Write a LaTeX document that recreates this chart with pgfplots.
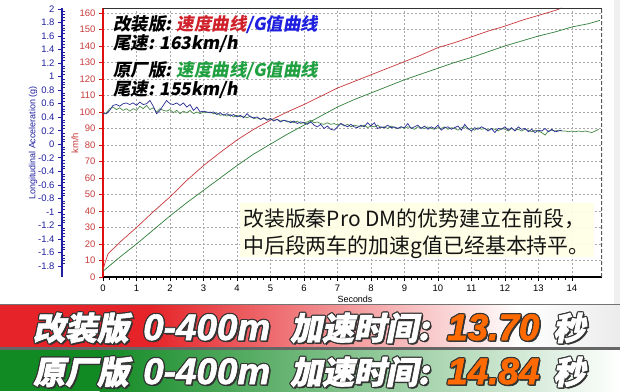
\documentclass[border=0pt]{standalone}
\usepackage{fontspec}
\usepackage{pgfplots}
\pgfplotsset{compat=1.18}
\setmainfont{Liberation Sans}
\newfontfamily\cjk{Noto Sans CJK SC}
\newfontfamily\cjkslant{Noto Sans CJK SC}[FakeSlant=0.18]
\newfontfamily\bannercjk{Noto Sans CJK SC}[FakeSlant=0.2, FakeBold=2]
\newfontfamily\bannerlat{Liberation Sans}[FakeBold=1.6]

\definecolor{spdred}{HTML}{C8383C}
\definecolor{spdgreen}{HTML}{2F7F3A}
\definecolor{gblue}{HTML}{2A2A96}
\definecolor{ggreen}{HTML}{4B8B4B}
\definecolor{axred}{HTML}{E01010}
\definecolor{lblred}{HTML}{C83C3C}
\definecolor{lblblue}{HTML}{2020A0}
\definecolor{gridgray}{HTML}{A8A8A8}
\definecolor{txtred}{HTML}{D0202A}
\definecolor{txtblue}{HTML}{1F1FE0}
\definecolor{txtgreen}{HTML}{20A040}
\definecolor{boxfill}{HTML}{FFFFE6}
\definecolor{bandred}{HTML}{E52328}
\definecolor{bandgreen}{HTML}{128A24}
\definecolor{numorange}{HTML}{FF6A00}

\newcommand{\bcjk}{\bannercjk\bfseries\fontsize{32}{34}\selectfont}
\newcommand{\blat}{\bannerlat\bfseries\itshape\fontsize{37}{38}\selectfont}
% text with a dark outline for the banners
\newcommand{\shadowtext}[5]{%
  \foreach \dx/\dy in {-1.2/0,1.2/0,0/1.2,0/-1.2,-0.85/0.85,0.85/0.85,-0.85/-0.85,0.85/-0.85,1.6/-1.6}{%
    \node[anchor=base west, inner sep=0pt, text=black!80, font=#3] at ({#1+\dx},{#2+\dy}) {#5};}%
  \node[anchor=base west, inner sep=0pt, text=#4, font=#3] at (#1,#2) {#5};}

\begin{document}
\begin{tikzpicture}[x=1bp,y=1bp]
\useasboundingbox (0,0) rectangle (620,391);
\fill[white] (0,0) rectangle (620,391);
\fill[gray!12] (614,86) rectangle (620,391);

% speed axis (km/h)
\begin{axis}[
  at={(103bp,114bp)}, anchor=south west, scale only axis,
  width=499bp, height=269bp,
  xmin=0, xmax=14.9, ymin=0, ymax=163,
  axis x line*=bottom, axis y line*=left,
  x axis line style={black, line width=2bp, -},
  y axis line style={axred, line width=2bp, -},
  xtick={0,1,...,14}, ytick={0,10,...,160},
  minor x tick num=4,
  tick align=outside,
  major tick length=4bp, minor tick length=2.5bp,
  xtick style={black, line width=0.7bp},
  ytick style={axred, line width=0.7bp},
  grid=major,
  major grid style={gridgray, line width=0.6bp, dash pattern=on 2bp off 2bp},
  tick label style={font=\fontsize{9.5}{10}\selectfont},
  /pgf/number format/assume math mode=true,
  yticklabel style={text=lblred},
  xticklabel style={text=black},
]
\addplot[spdgreen, line width=0.7bp] coordinates {
(0,3.5)(0.5,12)(1,20)(1.5,28.5)(2,37)(2.5,45)(3,52.5)(3.5,60)(4,67.5)(4.5,74.5)
(5,80.5)(5.5,86.5)(6,92)(6.5,97.5)(7,103)(7.5,107.5)(8,111.5)(8.5,115.5)(9,119.5)(9.5,123)
(10,126.5)(10.5,130)(11,133)(11.5,136.5)(12,140)(12.5,143)(13,146)(13.5,148.5)(14,151.5)(14.5,153.5)(14.84,155.5)};
\addplot[spdred, line width=0.7bp] coordinates {
(0,4)(0.05,8)(0.15,14)(0.3,17)(0.5,21)(0.75,25.5)(1,30)(1.5,39.5)(2,48.5)(2.5,58.5)
(3,67.5)(3.5,75.5)(4,83)(4.5,89.5)(5,95)(5.5,100)(6,104.5)(6.5,109.5)(7,114.5)(7.5,118.5)
(8,122.5)(8.5,126.5)(9,130.5)(9.5,134.5)(10,139)(10.5,142)(11,145.5)(11.5,149)(12,152)(12.5,155.5)
(13,158.5)(13.5,161.5)(13.7,163)};
\draw[black!80, line width=0.8bp] (rel axis cs:0,1) -- (rel axis cs:1,1);
\draw[black!65, line width=1.5bp, dash pattern=on 4bp off 2bp] (rel axis cs:1,0) -- (rel axis cs:1,1);
\end{axis}

% acceleration curves (g)
\begin{axis}[
  at={(103bp,114bp)}, anchor=south west, scale only axis,
  width=499bp, height=269bp,
  xmin=0, xmax=14.9, ymin=-1.963, ymax=2.016,
  hide axis,
]
\addplot[ggreen, line width=0.7bp] coordinates {
(0,0.453)(0.1,0.466)(0.2,0.527)(0.3,0.551)(0.4,0.514)(0.5,0.539)(0.6,0.502)(0.7,0.527)(0.8,0.490)(0.9,0.527)
(1,0.502)(1.1,0.563)(1.2,0.527)(1.3,0.575)(1.4,0.514)(1.5,0.539)(1.6,0.478)(1.7,0.527)(1.8,0.502)(1.9,0.490)
(2,0.514)(2.1,0.466)(2.2,0.502)(2.3,0.453)(2.4,0.490)(2.5,0.466)(2.6,0.502)(2.7,0.453)(2.8,0.478)(2.9,0.453)
(3,0.478)(3.1,0.466)(3.2,0.478)(3.3,0.453)(3.4,0.466)(3.5,0.429)(3.6,0.441)(3.7,0.417)(3.8,0.441)(3.9,0.405)
(4,0.429)(4.1,0.405)(4.2,0.417)(4.3,0.392)(4.4,0.417)(4.5,0.380)(4.6,0.392)(4.7,0.368)(4.8,0.392)(4.9,0.368)
(5,0.380)(5.1,0.356)(5.2,0.368)(5.3,0.344)(5.4,0.356)(5.5,0.331)(5.6,0.344)(5.7,0.319)(5.8,0.344)(5.9,0.307)
(6,0.319)(6.1,0.331)(6.2,0.356)(6.3,0.319)(6.4,0.331)(6.5,0.307)(6.6,0.295)(6.7,0.319)(6.8,0.295)(6.9,0.307)
(7,0.283)(7.1,0.307)(7.2,0.270)(7.3,0.295)(7.4,0.258)(7.5,0.283)(7.6,0.270)(7.7,0.258)(7.8,0.283)(7.9,0.246)
(8,0.270)(8.1,0.258)(8.2,0.283)(8.3,0.246)(8.4,0.258)(8.5,0.234)(8.6,0.270)(8.7,0.246)(8.8,0.234)(8.9,0.258)
(9,0.234)(9.1,0.258)(9.2,0.246)(9.3,0.222)(9.4,0.258)(9.5,0.246)(9.6,0.234)(9.7,0.258)(9.8,0.234)(9.9,0.222)
(10,0.246)(10.1,0.234)(10.2,0.258)(10.3,0.222)(10.4,0.246)(10.5,0.234)(10.6,0.209)(10.7,0.246)(10.8,0.258)(10.9,0.222)
(11,0.234)(11.1,0.209)(11.2,0.246)(11.3,0.222)(11.4,0.234)(11.5,0.209)(11.6,0.234)(11.7,0.222)(11.8,0.197)(11.9,0.234)
(12,0.222)(12.1,0.197)(12.2,0.234)(12.3,0.209)(12.4,0.222)(12.5,0.197)(12.6,0.222)(12.7,0.209)(12.8,0.185)(12.9,0.209)
(13,0.197)(13.1,0.173)(13.2,0.136)(13.3,0.197)(13.4,0.209)(13.5,0.197)(13.6,0.209)(13.7,0.197)(13.8,0.197)(13.9,0.185)
(14,0.197)(14.1,0.185)(14.2,0.197)(14.3,0.185)(14.4,0.197)(14.5,0.185)(14.6,0.173)(14.7,0.197)(14.8,0.222)};
\addplot[gblue, line width=0.7bp] coordinates {
(0,0.453)(0.1,0.453)(0.2,0.502)(0.3,0.575)(0.4,0.588)(0.5,0.563)(0.6,0.600)(0.7,0.612)(0.8,0.588)(0.9,0.612)
(1,0.575)(1.1,0.624)(1.2,0.588)(1.3,0.600)(1.4,0.649)(1.5,0.563)(1.6,0.453)(1.7,0.502)(1.8,0.575)(1.9,0.649)
(2,0.600)(2.1,0.588)(2.2,0.612)(2.3,0.575)(2.4,0.612)(2.5,0.551)(2.6,0.588)(2.7,0.502)(2.8,0.551)(2.9,0.478)
(3,0.490)(3.1,0.478)(3.2,0.466)(3.3,0.478)(3.4,0.441)(3.5,0.466)(3.6,0.429)(3.7,0.453)(3.8,0.417)(3.9,0.441)
(4,0.405)(4.1,0.429)(4.2,0.392)(4.3,0.453)(4.4,0.405)(4.5,0.392)(4.6,0.405)(4.7,0.368)(4.8,0.392)(4.9,0.356)
(5,0.380)(5.1,0.344)(5.2,0.368)(5.3,0.331)(5.4,0.356)(5.5,0.344)(5.6,0.319)(5.7,0.344)(5.8,0.307)(5.9,0.331)
(6,0.319)(6.1,0.295)(6.2,0.331)(6.3,0.283)(6.4,0.258)(6.5,0.295)(6.6,0.234)(6.7,0.270)(6.8,0.222)(6.9,0.209)
(7,0.258)(7.1,0.307)(7.2,0.283)(7.3,0.258)(7.4,0.295)(7.5,0.258)(7.6,0.246)(7.7,0.283)(7.8,0.258)(7.9,0.319)
(8,0.270)(8.1,0.319)(8.2,0.234)(8.3,0.258)(8.4,0.246)(8.5,0.283)(8.6,0.246)(8.7,0.258)(8.8,0.234)(8.9,0.258)
(9,0.246)(9.1,0.307)(9.2,0.234)(9.3,0.258)(9.4,0.283)(9.5,0.234)(9.6,0.270)(9.7,0.222)(9.8,0.258)(9.9,0.234)
(10,0.283)(10.1,0.209)(10.2,0.246)(10.3,0.258)(10.4,0.222)(10.5,0.246)(10.6,0.270)(10.7,0.209)(10.8,0.295)(10.9,0.234)
(11,0.197)(11.1,0.246)(11.2,0.222)(11.3,0.258)(11.4,0.234)(11.5,0.197)(11.6,0.234)(11.7,0.173)(11.8,0.234)(11.9,0.222)
(12,0.258)(12.1,0.209)(12.2,0.246)(12.3,0.197)(12.4,0.258)(12.5,0.222)(12.6,0.234)(12.7,0.185)(12.8,0.222)(12.9,0.173)
(13,0.209)(13.1,0.197)(13.2,0.234)(13.3,0.185)(13.4,0.222)(13.5,0.185)(13.6,0.197)(13.7,0.209)};
\end{axis}

% acceleration scale (g)
\begin{axis}[
  at={(62bp,114bp)}, anchor=south west, scale only axis,
  width=1bp, height=269bp,
  xmin=0, xmax=1, ymin=-1.963, ymax=2.016,
  axis x line=none, axis y line*=left,
  y axis line style={lblblue, line width=2bp, -},
  ytick={-1.8,-1.6,-1.4,-1.2,-1,-0.8,-0.6,-0.4,-0.2,0,0.2,0.4,0.6,0.8,1,1.2,1.4,1.6,1.8,2},
  minor y tick num=4,
  tick align=outside,
  major tick length=4bp, minor tick length=2.5bp,
  ytick style={lblblue, line width=0.7bp},
  minor tick style={xshift=2.5bp},
  tick label style={font=\fontsize{9.5}{10}\selectfont},
  /pgf/number format/assume math mode=true,
  yticklabel style={text=lblblue},
]
\addplot[draw=none] coordinates {(0,0)};
\end{axis}

% axis titles
\node[rotate=90, text=lblblue, font=\fontsize{9}{10}\selectfont] at (33,248) {Longitudinal Acceleration (g)};
\node[rotate=90, text=lblred, font=\fontsize{9.5}{10}\selectfont] at (75,248) {km/h};
\node[font=\fontsize{9}{10}\selectfont] at (355,92) {Seconds};

% series captions
\node[anchor=base west, inner sep=0pt, font=\cjkslant\bfseries\fontsize{17.5}{18}\selectfont] at (113,361)
  {改装版: \textcolor{txtred}{速度曲线}\textcolor{txtblue}{/G值曲线}};
\node[anchor=base west, inner sep=0pt, font=\cjkslant\bfseries\fontsize{17.5}{18}\selectfont] at (113,342)
  {尾速: 163km/h};
\node[anchor=base west, inner sep=0pt, font=\cjkslant\bfseries\fontsize{17.5}{18}\selectfont] at (113,314.5)
  {原厂版: \textcolor{txtgreen}{速度曲线/G值曲线}};
\node[anchor=base west, inner sep=0pt, font=\cjkslant\bfseries\fontsize{17.5}{18}\selectfont] at (113,295.5)
  {尾速: 155km/h};

% comment box
\fill[boxfill, opacity=0.92] (240,134) rectangle (594,188);
\node[anchor=base west, inner sep=0pt, text=black!92, font=\cjk\fontsize{21}{22}\selectfont] at (243,165)
  {改装版秦Pro DM的优势建立在前段，};
\node[anchor=base west, inner sep=0pt, text=black!92, font=\cjk\fontsize{21}{22}\selectfont] at (243,138)
  {中后段两车的加速g值已经基本持平。};

% result banners
\fill[bandred] (0,44) rectangle (150,86);
\shade[left color=bandred, right color=white] (149.5,44) rectangle (520,86);
\shade[left color=white, right color=gray!15] (519.5,44) rectangle (620,86);
\fill[bandgreen] (0,0) rectangle (100,41.5);
\shade[left color=bandgreen, right color=white] (99.5,0) rectangle (620,41.5);
\fill[black!60] (0,41.5) rectangle (620,44);
\fill[black!55] (0,86) rectangle (620,87.5);

\shadowtext{33}{51}{\bcjk}{white}{改装版}
\shadowtext{143}{51}{\blat}{white}{0-400m}
\shadowtext{290}{51}{\bcjk}{white}{加速时间:}
\shadowtext{447}{51}{\blat}{numorange}{13.70}
\shadowtext{553}{51}{\bcjk}{white}{秒}

\shadowtext{33}{7}{\bcjk}{white}{原厂版}
\shadowtext{143}{7}{\blat}{white}{0-400m}
\shadowtext{290}{7}{\bcjk}{white}{加速时间:}
\shadowtext{447}{7}{\blat}{numorange}{14.84}
\shadowtext{553}{7}{\bcjk}{white}{秒}
\end{tikzpicture}
\end{document}
